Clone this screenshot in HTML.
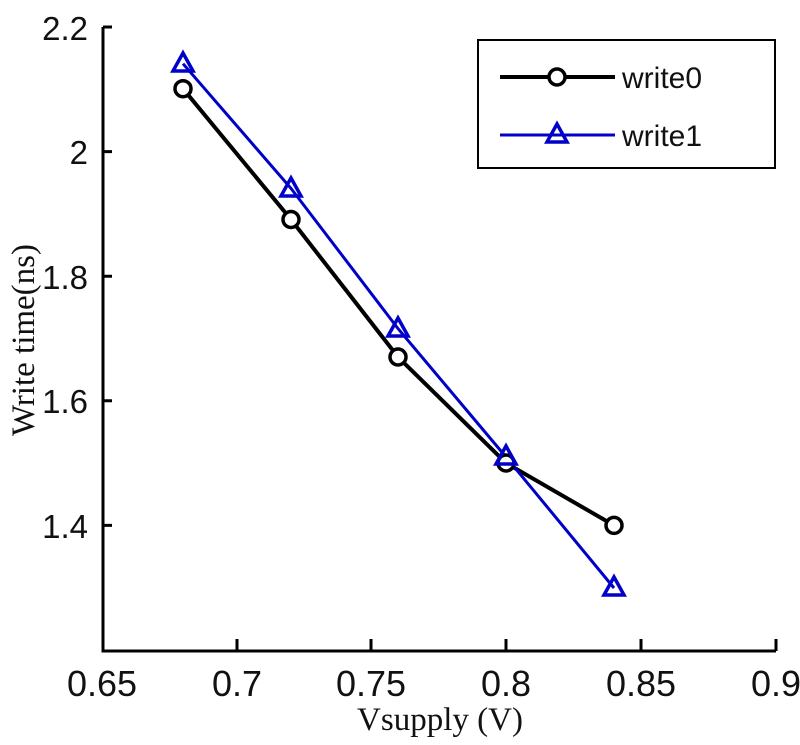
<!DOCTYPE html>
<html><head><style>body{margin:0;background:#fff}</style></head><body>
<svg width="800" height="740" xmlns="http://www.w3.org/2000/svg">
<rect width="800" height="740" fill="#fff"/>
<g stroke="#000" stroke-width="3" fill="none">
<path d="M103 27 V651 H776"/>
<path d="M103 27 h9 M103 151.6 h9 M103 276.2 h9 M103 400.8 h9 M103 525.4 h9"/>
<path d="M237 651 v-12 M371 651 v-12 M506 651 v-12 M641 651 v-12 M776 651 v-12"/>
</g>
<g font-family="Liberation Sans, sans-serif" font-size="33" fill="#111" text-anchor="end">
<text x="88" y="40">2.2</text><text x="88" y="164">2</text><text x="88" y="289">1.8</text><text x="88" y="413">1.6</text><text x="88" y="538">1.4</text>
</g>
<g font-family="Liberation Sans Narrow, Liberation Sans, sans-serif" font-size="36" fill="#111" text-anchor="middle">
<text x="102" y="696">0.65</text><text x="237" y="696">0.7</text><text x="371" y="696">0.75</text><text x="506" y="696">0.8</text><text x="641" y="696">0.85</text><text x="776" y="696">0.9</text>
</g>
<text x="440" y="730" font-family="Liberation Serif, serif" font-size="33" text-anchor="middle" fill="#111">Vsupply (V)</text>
<text transform="translate(34 340) rotate(-90)" font-family="Liberation Serif, serif" font-size="33" text-anchor="middle" fill="#111">Write time(ns)</text>
<polyline points="183,88.7 291,219.5 398,357 506,463 614,525.4" fill="none" stroke="#000" stroke-width="4"/>
<polyline points="183,63.7 291,188.4 398,328.6 506,457 614,588" fill="none" stroke="#0000c8" stroke-width="3"/>
<g fill="#fff" stroke="#000" stroke-width="3.5">
<circle cx="183" cy="88.7" r="8"/><circle cx="291" cy="219.5" r="8"/><circle cx="398" cy="357" r="8"/><circle cx="506" cy="463" r="8"/><circle cx="614" cy="525.4" r="8"/>
</g>
<g fill="none" stroke="#0000c8" stroke-width="3.5">
<path d="M183 53 l-10 18 h20 z"/><path d="M291 178 l-10 18 h20 z"/><path d="M398 318 l-10 18 h20 z"/><path d="M506 446 l-10 18 h20 z"/><path d="M614 577 l-10 18 h20 z"/>
</g>
<rect x="478" y="40" width="297" height="128" fill="#fff" stroke="#000" stroke-width="2"/>
<line x1="500" y1="77" x2="615" y2="77" stroke="#000" stroke-width="4"/>
<circle cx="557" cy="77" r="8" fill="#fff" stroke="#000" stroke-width="3.5"/>
<line x1="500" y1="135" x2="615" y2="135" stroke="#0000c8" stroke-width="3"/>
<path d="M557 124 l-10 18 h20 z" fill="none" stroke="#0000c8" stroke-width="3.5"/>
<g font-family="Liberation Sans, sans-serif" font-size="30" fill="#111">
<text x="622" y="88">write0</text><text x="622" y="146">write1</text>
</g>
</svg>
</body></html>
